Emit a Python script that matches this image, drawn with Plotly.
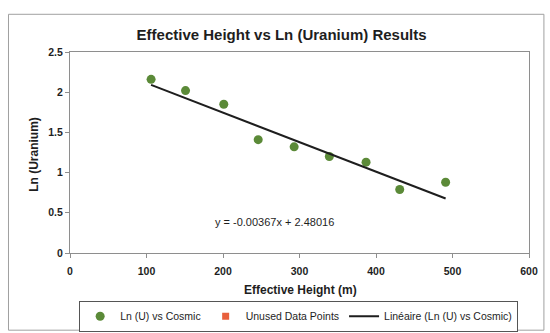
import plotly.graph_objects as go

# Effective height (m) and natural log of uranium readings
effective_height = [106, 151, 201, 246, 293, 339, 387, 431, 491]
ln_uranium = [2.16, 2.02, 1.85, 1.41, 1.32, 1.20, 1.13, 0.79, 0.88]

# Points excluded from the fit (none plotted)
unused_height = [None]
unused_ln = [None]

# Linear trend reported for the fit
slope = -0.00367
intercept = 2.48016
trend_x = [min(effective_height), max(effective_height)]
trend_y = [slope * v + intercept for v in trend_x]

x_ticks = [0, 100, 200, 300, 400, 500, 600]
y_ticks = [0, 0.5, 1, 1.5, 2, 2.5]
y_tick_text = ["0", "0.5", "1", "1.5", "2", "2.5"]

font_family = "Liberation Sans, Arial, sans-serif"
ink = "#1e1e1e"

fig = go.Figure()
fig.add_trace(go.Scatter(
    x=effective_height, y=ln_uranium, mode="markers",
    name="Ln (U) vs Cosmic",
    marker=dict(color="#5b8a38", size=9, line=dict(width=0)),
))
fig.add_trace(go.Scatter(
    x=unused_height, y=unused_ln, mode="markers",
    name="Unused Data Points",
    marker=dict(color="#e8603c", size=7, symbol="square"),
))
fig.add_trace(go.Scatter(
    x=trend_x, y=trend_y, mode="lines",
    name="Linéaire (Ln (U) vs Cosmic)",
    line=dict(color=ink, width=2),
))

# Trend equation
fig.add_annotation(
    x=267, y=0.386, xref="x", yref="y",
    text=f"y = {slope:.5f}x + {intercept:.5f}",
    showarrow=False, font=dict(size=11, color=ink, family=font_family),
)

# Axis titles
fig.add_annotation(
    x=0.503, y=-0.182, xref="paper", yref="paper",
    xanchor="center", yanchor="middle", showarrow=False,
    text="Effective Height (m)",
    font=dict(size=12, color=ink, family=font_family, weight="bold"),
)
fig.add_annotation(
    x=-0.080, y=0.49, xref="paper", yref="paper",
    xanchor="center", yanchor="middle", showarrow=False, textangle=-90,
    text="Ln (Uranium)",
    font=dict(size=12, color=ink, family=font_family, weight="bold"),
)

# Outer chart frame
fig.add_shape(type="rect", xref="paper", yref="paper",
              x0=-0.134, x1=1.0325, y0=-0.384, y1=1.1876,
              line=dict(color="#a0a0a0", width=1))

axis_common = dict(
    showgrid=False, zeroline=False, showline=True, mirror=True,
    linecolor="#8e8e8e", linewidth=1, ticks="outside", ticklen=4,
    tickcolor="#8e8e8e",
    tickfont=dict(size=10.5, color=ink, family=font_family, weight="bold"),
)

fig.update_layout(
    width=550, height=333,
    margin=dict(l=70, r=18, t=52, b=80),
    paper_bgcolor="white", plot_bgcolor="white",
    font=dict(family=font_family, color=ink),
    title=dict(
        text="Effective Height vs Ln (Uranium) Results",
        x=0.512, xref="container", xanchor="center",
        y=0.895, yref="container", yanchor="middle",
        font=dict(size=15, color=ink, family=font_family, weight="bold"),
    ),
    xaxis=dict(range=[0, 600], tickvals=x_ticks, ticklabelstandoff=4, **axis_common),
    yaxis=dict(range=[0, 2.5], tickvals=y_ticks, ticktext=y_tick_text, **axis_common),
    legend=dict(
        orientation="h", xref="container", x=0.543, xanchor="center",
        yref="container", y=0.097, yanchor="top",
        bordercolor="#555", borderwidth=1, bgcolor="white",
        font=dict(size=10.5, family=font_family, color=ink),
        itemwidth=30, tracegroupgap=0,
    ),
    showlegend=True,
)

fig.write_html("out.html")
